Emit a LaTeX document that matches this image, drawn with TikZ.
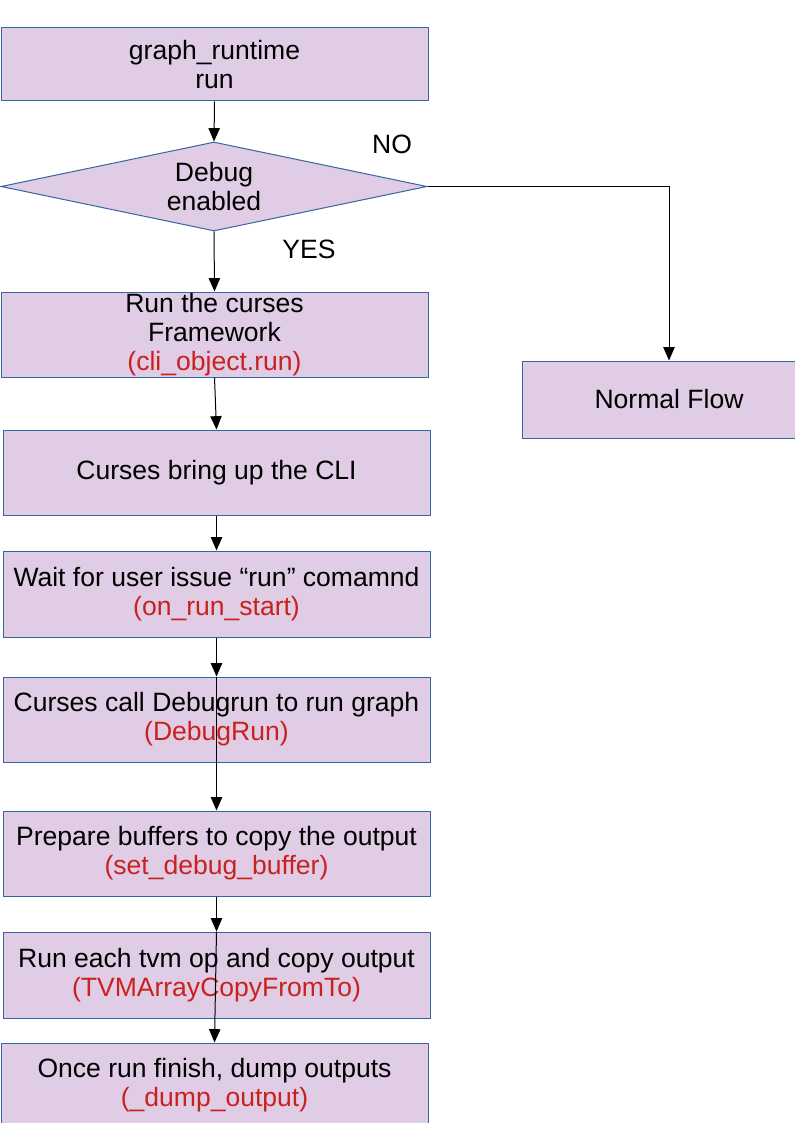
\documentclass[tikz,border=0pt]{standalone}
\usepackage{fontspec}
\setmainfont{Liberation Sans}
\usetikzlibrary{shapes.geometric,arrows.meta}
\definecolor{boxfill}{RGB}{224,204,228}
\definecolor{boxdraw}{RGB}{52,101,164}
\definecolor{codered}{RGB}{201,33,30}
\tikzset{
  flowbox/.style={draw=boxdraw, fill=boxfill, line width=0.75pt,
    minimum width={427*0.75pt}, minimum height={85*0.75pt}, inner sep=0pt,
    align=center, font=\fontsize{19.9}{21.6}\selectfont},
  decision/.style={diamond, draw=boxdraw, fill=boxfill, line width=0.75pt,
    aspect=4.8, minimum width={426*0.75pt}, minimum height={89*0.75pt}, inner sep=0pt,
    align=center, font=\fontsize{19.9}{21.6}\selectfont},
  lbl/.style={font=\fontsize{19.9}{21.6}\selectfont, inner sep=0pt},
  flow/.style={draw=black, line width=0.75pt, -{Triangle[length=10pt,width=8.5pt]}},
  code/.style={text=codered}
}
\begin{document}
\begin{tikzpicture}[x=0.75pt,y=-0.75pt]
\useasboundingbox (0,0) rectangle (794,1123);
\fill[white] (0,0) rectangle (794,1123);

\node[flowbox, minimum height={73*0.75pt}] (b1) at (214.5,64.5) {graph\_runtime\\run};
\node[decision] (dia) at (214,186.5) {Debug\\enabled};
\node[flowbox] (b2) at (214.5,334.5) {Run the curses\\Framework\\\textcolor{codered}{(cli\_object.run)}};
\node[flowbox] (b3) at (216.5,472.5) {Curses bring up the CLI};
\node[flowbox, minimum height={86*0.75pt}] (b4) at (216.5,594) {Wait for user issue “run” comamnd\\\textcolor{codered}{(on\_run\_start)}};
\node[flowbox] (b5) at (216.5,719.5) {Curses call Debugrun to run graph\\\textcolor{codered}{(DebugRun)}};
\node[flowbox] (b6) at (216.5,853.5) {Prepare buffers to copy the output\\\textcolor{codered}{(set\_debug\_buffer)}};
\node[flowbox, minimum height={86*0.75pt}] (b7) at (216.5,975) {Run each tvm op and copy output\\\textcolor{codered}{(TVMArrayCopyFromTo)}};
\node[flowbox, minimum height={84*0.75pt}] (b8) at (214.5,1085) {Once run finish, dump outputs\\\textcolor{codered}{(\_dump\_output)}};
\node[flowbox, minimum width={294*0.75pt}, minimum height={77*0.75pt}] (nf) at (669,399.5) {Normal Flow};

\node[lbl] (no) at (392,144) {NO};
\node[lbl] (yes) at (309,249) {YES};

\draw[flow] (b1.south) -- (dia.north);
\draw[flow] (dia.south) -- (b2.north);
\draw[flow] (dia.east) -| (nf.north);
\draw[flow] (b2.south) -- (b3.north);
\draw[flow] (b3.south) -- (b4.north);
\draw[flow] (b4.south) -- (b5.north);
\draw[flow] (b5.north) -- (b6.north);
\draw[flow] (b6.south) -- (b7.north);
\draw[flow] (b7.north) -- (b8.north);
\end{tikzpicture}
\end{document}
